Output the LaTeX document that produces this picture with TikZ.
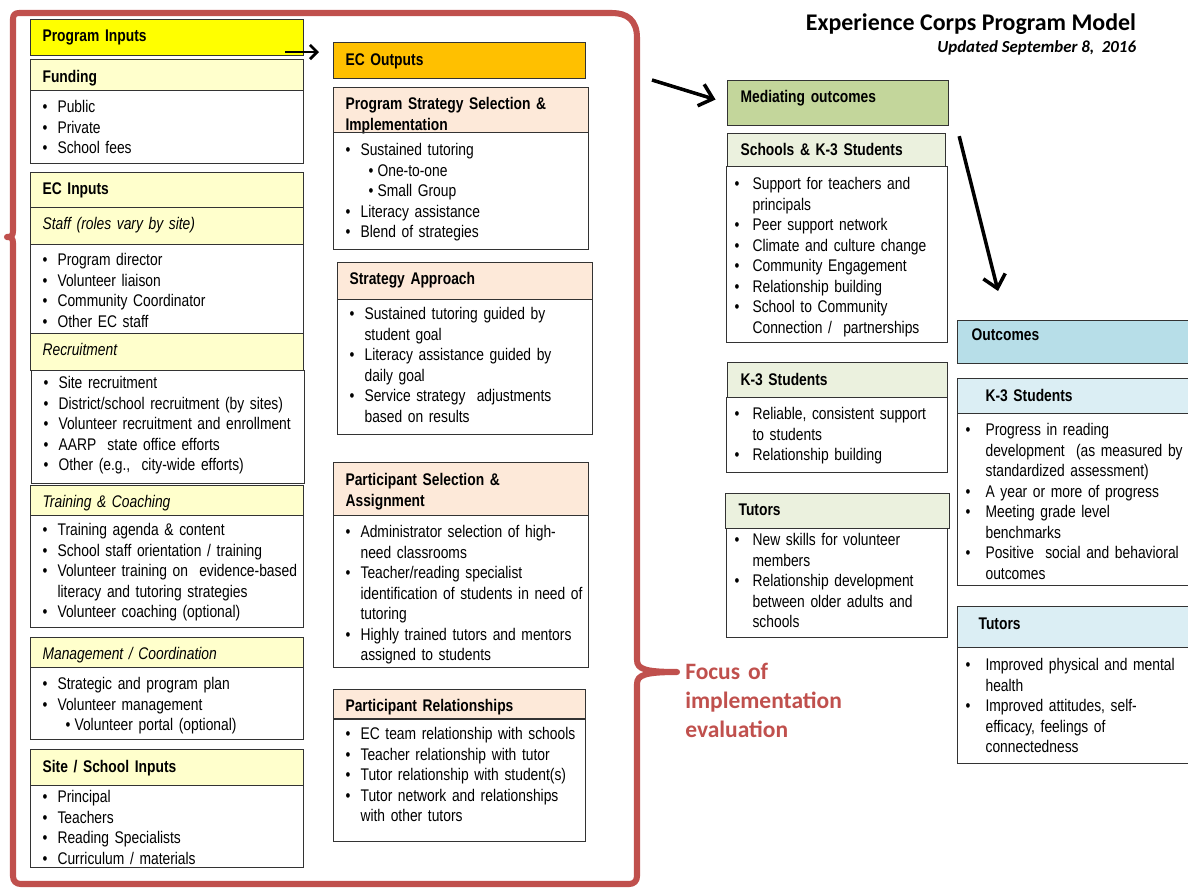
\documentclass[tikz,border=0pt]{standalone}
\usepackage{fontspec}
\setmainfont{Liberation Sans}[FakeStretch=0.82, WordSpace=0.8]
\newfontfamily\calibri{Carlito}
\usetikzlibrary{arrows.meta}

\definecolor{inyellow}{HTML}{FFFF00}
\definecolor{hdryellow}{HTML}{FFFFCC}
\definecolor{outorange}{HTML}{FFC000}
\definecolor{hdrpeach}{HTML}{FDE9D9}
\definecolor{medgreen}{HTML}{C3D69B}
\definecolor{hdrgreen}{HTML}{EBF1DE}
\definecolor{outblue}{HTML}{B7DEE8}
\definecolor{hdrblue}{HTML}{DBEEF4}
\definecolor{focusred}{HTML}{C0504D}

% bullet lists inside the boxes
\newlength{\bhang}
\setlength{\bhang}{0.375cm}
\newif\iffirstitm
\newcommand{\bodyfont}{\fontsize{12}{14.6}\selectfont\firstitmtrue}
\newcommand{\itm}{\iffirstitm\firstitmfalse\else\par\fi\rightskip=-1cm plus 1fil\relax\hangindent=\bhang\hangafter=1\noindent\makebox[\bhang][l]{\textbullet}}
\newcommand{\subitm}{\par\noindent\hspace*{0.575cm}\makebox[0.225cm][l]{\textbullet}}

\begin{document}
\begin{tikzpicture}[
    x=0.025cm, y=-0.025cm,
    panel/.style={draw=black!80, line width=0.8pt, anchor=north west, inner ysep=0pt, text height=0.55cm, font=\bodyfont},
    colA/.style={panel, inner xsep=0.3cm, text width=6.225cm},
    colB/.style={panel, inner xsep=0.3cm, text width=5.775cm},
    colC/.style={panel, inner xsep=0.2cm, text width=5.125cm, font={\bodyfont\setlength{\bhang}{0.45cm}}},
    colD/.style={panel, inner xsep=0.2cm, text width=5.55cm, font={\bodyfont\setlength{\bhang}{0.5cm}}},
    flow/.style={line width=2.5pt, -{Straight Barb[length=9pt,width=16pt]}},
    focusframe/.style={draw=focusred, line width=4.3pt, line cap=round, line join=round},
    focus/.style={anchor=north west, inner sep=0pt, text width=4cm, text height=0.4cm, text=focusred, font=\calibri\bfseries\fontsize{16.7}{20.6}\selectfont}
]
\useasboundingbox (0,0) rectangle (1188,890);
\clip (0,0) rectangle (1188,890);

% Title
\node[anchor=base east, font=\calibri\bfseries\fontsize{17}{20}\selectfont] (title) at (1141,30) {Experience Corps Program Model};
\node[anchor=base east, font=\calibri\bfseries\itshape\fontsize{12}{14}\selectfont] (updated) at (1141,52) {Updated September 8,~ 2016};

% Program inputs
\node[colA, fill=inyellow, text depth=0.35cm] (pin) at (30,19) {\textbf{Program Inputs}};
\node[colA, fill=hdryellow, text height=0.575cm, text depth=0.2cm] (fundh) at (30,59) {\textbf{Funding}};
\node[colA, text depth=1.275cm] (fundb) at (30,90) {\itm Public \itm Private \itm School fees\par};

\node[colA, fill=hdryellow, text depth=0.325cm] (ecinh) at (30,172) {\textbf{EC Inputs}};
\node[colA, fill=hdryellow, text depth=0.375cm] (staffh) at (30,207) {\textit{Staff (roles vary by site)}};
\node[colA, text height=0.525cm, text depth=1.7cm] (staffb) at (30,244) {\itm Program director \itm Volunteer liaison \itm Community Coordinator \itm Other EC staff\par};
\node[colA, fill=hdryellow, text depth=0.375cm] (recrh) at (30,333) {\textit{Recruitment}};
\node[colA, text height=0.45cm, text depth=2.375cm] (recrb) at (31,370) {\itm Site recruitment \itm District/school recruitment (by sites) \itm Volunteer recruitment and enrollment \itm AARP~ state office efforts \itm Other (e.g.,~ city-wide efforts)\par};
\node[colA, fill=hdryellow, text depth=0.2cm] (trainh) at (30,485) {\textit{Training \& Coaching}};
\node[colA, text height=0.5cm, text depth=2.3cm] (trainb) at (30,515) {\itm Training agenda \& content \itm School staff orientation / training \itm Volunteer training on~ evidence-based\newline literacy and tutoring strategies \itm Volunteer coaching (optional)\par};
\node[colA, fill=hdryellow, text depth=0.2cm] (mgmth) at (30,637) {\textit{Management / Coordination}};
\node[colA, text depth=1.25cm] (mgmtb) at (30,667) {\itm Strategic and program plan \itm Volunteer management \subitm Volunteer portal (optional)\par};

\node[colA, fill=hdryellow, text height=0.575cm, text depth=0.325cm] (siteh) at (30,749) {\textbf{Site / School Inputs}};
\node[colA, text height=0.425cm, text depth=1.625cm] (siteb) at (30,785) {\itm Principal \itm Teachers \itm Reading Specialists \itm Curriculum / materials\par};

% EC outputs
\node[colB, fill=outorange, text width=5.7cm, text height=0.575cm, text depth=0.325cm] (ecout) at (333,42) {\textbf{EC Outputs}};
\node[colB, fill=hdrpeach, text depth=0.575cm] (pssh) at (333,87) {\textbf{Program Strategy Selection \&}\\\textbf{Implementation}};
\node[colB, text height=0.575cm, text depth=2.35cm] (pssb) at (333,132) {\itm Sustained tutoring \subitm One-to-one \subitm Small Group \itm Literacy assistance \itm Blend of strategies\par};
\node[colB, fill=hdrpeach, text depth=0.375cm] (strh) at (337,262) {\textbf{Strategy Approach}};
\node[colB, text height=0.5cm, text depth=2.875cm] (strb) at (337,299) {\itm Sustained tutoring guided by\newline student goal \itm Literacy assistance guided by\newline daily goal \itm Service strategy~ adjustments\newline based on results\par};
\node[colB, fill=hdrpeach, text height=0.575cm, text depth=0.75cm] (psah) at (333,462) {\textbf{Participant Selection \&}\\\textbf{Assignment}};
\node[colB, text depth=3.25cm] (psab) at (333,515) {\itm Administrator selection of high-\newline need classrooms \itm Teacher/reading specialist\newline identification of students in need of\newline tutoring \itm Highly trained tutors and mentors\newline assigned to students\par};
\node[colB, fill=hdrpeach, text width=5.7cm, text depth=0.2cm] (prh) at (333,689) {\textbf{Participant Relationships}};
\node[colB, text width=5.7cm, text height=0.525cm, text depth=2.55cm] (prb) at (333,718) {\itm EC team relationship with schools \itm Teacher relationship with tutor \itm Tutor relationship with student(s) \itm Tutor network and relationships\newline with other tutors\par};

% Mediating outcomes
\node[colC, fill=medgreen, inner xsep=0.325cm, text width=4.875cm, text depth=0.575cm] (medh) at (727,80) {\textbf{Mediating outcomes}};
\node[colC, fill=hdrgreen, inner xsep=0.325cm, text width=4.8cm, text depth=0.275cm] (skh) at (727,133) {\textbf{Schools \& K-3 Students}};
\node[colC, text height=0.575cm, text depth=3.825cm] (skb) at (726,166) {\itm Support for teachers and\newline principals \itm Peer support network \itm Climate and culture change \itm Community Engagement \itm Relationship building \itm School to Community\newline Connection /~ partnerships\par};
\node[colC, fill=hdrgreen, inner xsep=0.325cm, text width=4.85cm, text height=0.575cm, text depth=0.3cm] (k3h) at (727,362) {\textbf{K-3 Students}};
\node[colC, text depth=1.325cm] (k3b) at (726,397) {\itm Reliable, consistent support\newline to students \itm Relationship building\par};
\node[colC, fill=hdrgreen, inner xsep=0.325cm, text width=4.95cm, text depth=0.325cm] (tuh) at (725,493) {\textbf{Tutors}};
\node[colC, text height=0.425cm, text depth=2.3cm] (tub) at (726,528) {\itm New skills for volunteer\newline members \itm Relationship development\newline between older adults and\newline schools\par};

% Outcomes
\node[colD, fill=outblue, inner xsep=0.35cm, text width=5.25cm, text height=0.5cm, text depth=0.575cm] (outc) at (957,320) {\textbf{Outcomes}};
\node[colD, fill=hdrblue, inner xsep=0.7cm, text width=4.55cm, text height=0.575cm, text depth=0.3cm] (ok3h) at (957,378) {\textbf{K-3 Students}};
\node[colD, text depth=3.75cm] (ok3b) at (957,413) {\itm Progress in reading\newline development~ (as measured by\newline standardized assessment) \itm A year or more of progress \itm Meeting grade level\newline benchmarks \itm Positive~ social and behavioral\newline outcomes\par};
\node[colD, fill=hdrblue, inner xsep=0.525cm, text width=4.9cm, text height=0.575cm, text depth=0.45cm] (otuh) at (957,606) {\textbf{Tutors}};
\node[colD, text height=0.575cm, text depth=2.325cm] (otub) at (957,647) {\itm Improved physical and mental\newline health \itm Improved attitudes, self-\newline efficacy, feelings of\newline connectedness\par};

% Focus of implementation evaluation
\draw[focusframe] (13,231)
    -- (13,19) .. controls (13,15) and (15,13) .. (19,13)
    -- (612,13) .. controls (627,13) and (637,20) .. (637,38)
    -- (637,660) .. controls (637,669) and (645,672) .. (677,672)
    .. controls (645,672) and (637,675) .. (637,684)
    -- (637,876) .. controls (637,881) and (634,884) .. (629,884)
    -- (21,884) .. controls (16,884) and (13,881) .. (13,876)
    -- (13,243) .. controls (13,238) and (11,237) .. (7,237)
    .. controls (11,237) and (13,236) .. (13,231) -- cycle;
\node[focus] (focus) at (685,663) {Focus of\\implementation\\evaluation};

% Arrows
\coordinate (pin-out) at (285,52);
\draw[flow, line width=2pt, -{Straight Barb[length=5pt,width=10pt]}, shorten >=0.35cm] (pin-out) -- (pin-out -| ecout.west);
\coordinate (ec-out) at (652,80);
\draw[flow, shorten >=0.3cm] (ec-out) -- (medh.west);
\coordinate (out-in) at (998,291);
\draw[flow] ([xshift=0.25cm,yshift=-0.25cm]medh.south east) -- (out-in);

\end{tikzpicture}
\end{document}
